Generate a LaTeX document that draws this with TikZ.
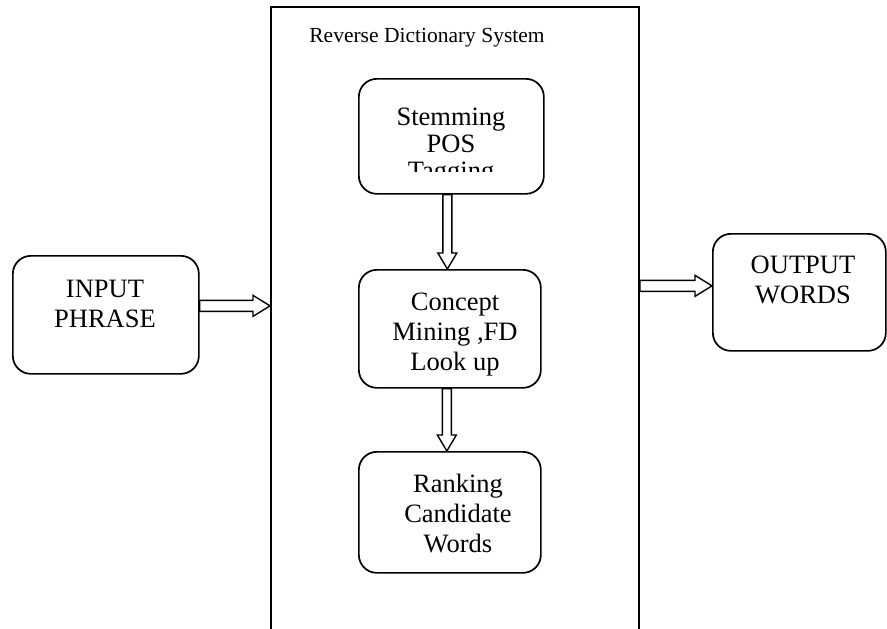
\documentclass[tikz,border=0pt]{standalone}
\usepackage{fontspec}
\setmainfont{Liberation Serif}
\usetikzlibrary{calc}
\newcommand{\hollowright}[2]{%
  \draw[hollow] let \p1=(#1), \p2=(#2) in
    (\x1,\y1+5.5pt) -- (\x2-17pt,\y1+5.5pt) -- (\x2-17pt,\y1+10.5pt) -- (\x2,\y1)
    -- (\x2-17pt,\y1-10.5pt) -- (\x2-17pt,\y1-5.5pt) -- (\x1,\y1-5.5pt) -- cycle;}
\newcommand{\hollowdown}[2]{%
  \draw[hollow] let \p1=(#1), \p2=(#2) in
    (\x1-4.5pt,\y1) -- (\x1-4.5pt,\y2+16pt) -- (\x1-9.5pt,\y2+16pt) -- (\x1,\y2)
    -- (\x1+9.5pt,\y2+16pt) -- (\x1+4.5pt,\y2+16pt) -- (\x1+4.5pt,\y1) -- cycle;}

\begin{document}
\begin{tikzpicture}[x=1pt, y=-1pt,
    block/.style={draw, line width=1.7pt, rounded corners=18pt, inner sep=0pt, anchor=north west},
    blocktext/.style={anchor=base, align=center, inner sep=0pt, font=\fontsize{26.5}{30}\selectfont},
    hollow/.style={draw, fill=white, line width=1.4pt, line join=miter}]
    \useasboundingbox (0,0) rectangle (887,629);
    \clip (0,0) rectangle (887,629);

    \node[draw, line width=2pt, minimum width=368pt, minimum height=680pt,
        anchor=north west, inner sep=0pt] (sys) at (270,6) {};
    \node[anchor=base, inner sep=0pt, font=\fontsize{21.5}{26}\selectfont]
        (title) at (427,42) {Reverse Dictionary System};

    \node[block, minimum width=185pt, minimum height=115pt] (stem) at (358,78) {};
    \begin{scope}
        \clip (358,78) rectangle (543,171);
        \node[blocktext, font=\fontsize{26.5}{27}\selectfont] (stemtext) at (451,179)
            {Stemming\\POS\\Tagging};
    \end{scope}
    \node[block, minimum width=182pt, minimum height=118pt] (concept) at (358,269) {};
    \node[blocktext] (concepttext) at (455,370) {Concept\\Mining ,FD\\Look up};
    \node[block, minimum width=182pt, minimum height=121pt] (rank) at (358,451) {};
    \node[blocktext] (ranktext) at (458,552) {Ranking\\Candidate\\Words};

    \node[block, minimum width=186pt, minimum height=118pt] (input) at (12,255) {};
    \node[blocktext] (inputtext) at (105,327) {INPUT\\PHRASE};
    \node[block, minimum width=173pt, minimum height=117pt] (output) at (712,233) {};
    \node[blocktext] (outputtext) at (803,303) {OUTPUT\\WORDS};

    \coordinate (inarrow) at ([yshift=9pt]input.east);
    \coordinate (outarrow) at ([yshift=6.5pt]output.west);
    \hollowright{inarrow}{inarrow -| sys.west}
    \hollowright{sys.east |- outarrow}{outarrow}
    \hollowdown{[xshift=-4pt]stem.south}{[xshift=-4pt]concept.north}
    \hollowdown{[xshift=-3pt]concept.south}{[xshift=-3pt]rank.north}
\end{tikzpicture}
\end{document}
